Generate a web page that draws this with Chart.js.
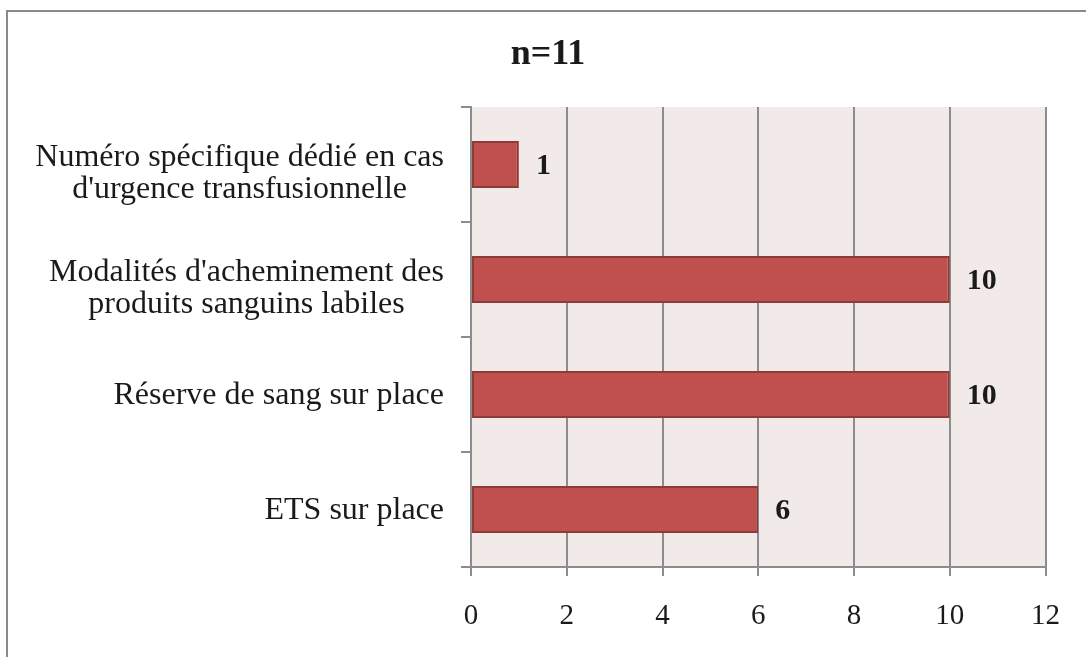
<!DOCTYPE html>
<html>
<head>
<meta charset="utf-8">
<script src="https://cdn.jsdelivr.net/npm/chart.js@4.4.1/dist/chart.umd.min.js"></script>
<style>
  html, body { margin: 0; padding: 0; background: #fff; overflow: hidden; }
  #wrap { position: relative; width: 1086px; height: 657px; }
  #frame { position: absolute; left: 6px; top: 10px; width: 1200px; height: 800px;
           border-left: 2px solid #8a8a8a; border-top: 2px solid #8a8a8a; }
  canvas { position: absolute; left: 0; top: 0; }
</style>
</head>
<body>
<div id="wrap">
  <div id="frame"></div>
  <canvas id="chart" width="1086" height="657"></canvas>
</div>
<script>
const titleText = 'n=11';
const categories = [
    ['Numéro spécifique dédié en cas', "d'urgence transfusionnelle"],
    ["Modalités d'acheminement des", 'produits sanguins labiles'],
    ['Réserve de sang sur place'],
    ['ETS sur place']
];
const values = [1, 10, 10, 6];
const xTicks = [0, 2, 4, 6, 8, 10, 12];

const serif = '"Liberation Serif", "Times New Roman", serif';
const gridGray = '#8c8c8c';

// fond rose de la zone de tracé
const plotBg = {
    id: 'plotBg',
    beforeDraw(chart) {
        const a = chart.chartArea, ctx = chart.ctx;
        ctx.save();
        ctx.fillStyle = '#f2e9e9';
        ctx.fillRect(a.left, a.top, a.right - a.left, a.bottom - a.top);
        ctx.restore();
    }
};

// titre, libellés de catégories (centrés par bloc) et valeurs
const texts = {
    id: 'texts',
    afterDraw(chart) {
        const ctx = chart.ctx, y = chart.scales.y;
        ctx.save();
        ctx.fillStyle = '#1a1a1a';
        ctx.textBaseline = 'middle';

        ctx.font = 'bold 36px ' + serif;
        ctx.textAlign = 'center';
        ctx.fillText(titleText, 548, 55);

        ctx.font = '32px ' + serif;
        const right = y.right - 27, lh = 32;
        categories.forEach((lines, i) => {
            const cy = y.getPixelForValue(i) + (lines.length > 1 ? 9 : 1);
            const w = Math.max(...lines.map(l => ctx.measureText(l).width));
            const cx = right - w / 2;
            lines.forEach((l, j) => {
                ctx.fillText(l, cx, cy + (j - (lines.length - 1) / 2) * lh);
            });
        });

        ctx.font = 'bold 30px ' + serif;
        ctx.textAlign = 'left';
        chart.getDatasetMeta(0).data.forEach((bar, i) => {
            ctx.fillText(String(values[i]), bar.x + 17, bar.y + 2);
        });
        ctx.restore();
    }
};

new Chart(document.getElementById('chart'), {
    type: 'bar',
    data: {
        labels: categories,
        datasets: [{
            data: values,
            backgroundColor: '#c0504d',
            borderColor: '#8e3a38',
            borderWidth: 2,
            borderSkipped: false,
            barPercentage: 0.41,
            categoryPercentage: 1
        }]
    },
    options: {
        indexAxis: 'y',
        responsive: false,
        animation: false,
        layout: { padding: { top: 107, right: 40, bottom: 0, left: 0 } },
        scales: {
            x: {
                min: 0,
                max: 12,
                afterBuildTicks(scale) {
                    scale.ticks = xTicks.map(v => ({ value: v }));
                },
                grid: { color: gridGray, lineWidth: 2, tickLength: 9 },
                border: { color: gridGray, width: 2 },
                ticks: { color: '#1a1a1a', padding: 26, font: { family: serif, size: 29, lineHeight: 1.0 } }
            },
            y: {
                afterFit(scale) { scale.width = 471; },
                grid: { color: gridGray, lineWidth: 2, drawOnChartArea: false, tickLength: 10, offset: true },
                border: { color: gridGray, width: 2 },
                ticks: { display: false }
            }
        },
        plugins: {
            legend: { display: false },
            tooltip: { enabled: false }
        }
    },
    plugins: [plotBg, texts]
});
</script>
</body>
</html>
